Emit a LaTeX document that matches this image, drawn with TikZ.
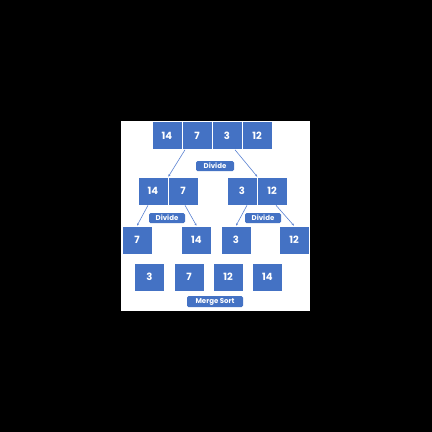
\documentclass[tikz,border=0pt]{standalone}
\usepackage{fontspec}
\setmainfont{Poppins}
\usetikzlibrary{arrows.meta}
\definecolor{cellblue}{RGB}{68,114,196}
\definecolor{lineblue}{RGB}{90,130,210}

\begin{document}
\begin{tikzpicture}[x=1pt,y=-1pt,
    cell/.style={draw=white,line width=0.6pt,fill=cellblue,text=white,
      minimum width=30pt,minimum height=28pt,inner sep=0pt,
      font=\fontsize{10}{11}\selectfont\bfseries},
    tag/.style={fill=cellblue,text=white,rounded corners=1.5pt,
      minimum height=10pt,inner sep=0pt,
      font=\fontsize{7}{8}\selectfont\bfseries},
    link/.style={draw=lineblue,line width=0.6pt,-{Stealth[length=2.5pt,width=2pt]}}]
    \fill[black] (0,0) rectangle (432,432);
    \fill[white] (121,121) rectangle (310,311);
    % whole list
    \node[cell] (t14) at (167,135.5) {14};
    \node[cell] (t7) at (197,135.5) {7};
    \node[cell] (t3) at (227,135.5) {3};
    \node[cell] (t12) at (257,135.5) {12};
    \node[tag,minimum width=38pt] (div1) at (215,166) {Divide};
    % halves
    \node[cell] (m14) at (153,191) {14};
    \node[cell] (m7) at (183,191) {7};
    \node[cell] (m3) at (242,191) {3};
    \node[cell] (m12) at (272,191) {12};
    \node[tag,minimum width=36pt] (div2) at (167,218) {Divide};
    \node[tag,minimum width=36pt] (div3) at (263,218) {Divide};
    % single items
    \node[cell] (b7) at (137,240) {7};
    \node[cell] (b14) at (196.5,240) {14};
    \node[cell] (b3) at (236,240) {3};
    \node[cell] (b12) at (294,240) {12};
    % sorted
    \node[cell] (s3) at (149.5,277) {3};
    \node[cell] (s7) at (189,277) {7};
    \node[cell] (s12) at (228,277) {12};
    \node[cell] (s14) at (267.5,277) {14};
    \node[tag,minimum width=56pt,minimum height=11pt] (merge) at (215,301.5) {Merge Sort};
    \draw[link] ([xshift=-12pt]t7.south) -- (m14.north east);
    \draw[link] ([xshift=8pt]t3.south) -- (m3.north east);
    \draw[link] ([xshift=-5pt]m14.south) -- (b7.north);
    \draw[link] ([xshift=2pt]m7.south) -- (b14.north);
    \draw[link] ([xshift=5pt]m3.south) -- (b3.north);
    \draw[link] ([xshift=4pt]m12.south) -- (b12.north);
  \end{tikzpicture}
\end{document}
